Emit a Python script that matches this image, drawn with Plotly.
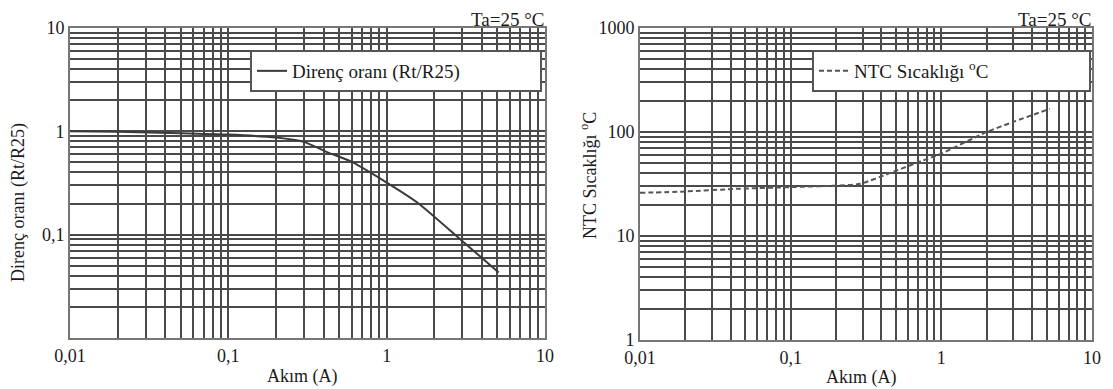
import plotly.graph_objects as go

# ---- data ----
akim_left = [0.01, 0.02, 0.05, 0.1, 0.2, 0.3, 0.42, 0.59, 0.95, 1.56, 2.9, 5.1]
direnc_orani = [1.0, 0.99, 0.96, 0.93, 0.87, 0.79, 0.63, 0.515, 0.336, 0.205, 0.091, 0.043]

akim_right = [0.01, 0.02, 0.046, 0.1, 0.2, 0.29, 0.48, 0.75, 1.0, 2.0, 3.0, 5.25]
ntc_sicaklik = [26, 26.8, 28.5, 29.5, 30.5, 31.8, 41.5, 53, 62, 100, 125, 167]

decade_labels_x = {0.01: "0,01", 0.1: "0,1", 1: "1", 10: "10"}
decade_labels_y_left = {1: "1", 0.1: "0,1", 10: "10"}
decade_labels_y_right = {1: "1", 10: "10", 100: "100", 1000: "1000"}

def log_ticks(start_exp, end_exp, labels):
    vals, texts = [], []
    for e in range(start_exp, end_exp):
        for m in range(1, 10):
            v = round(m * 10 ** e, 6)
            vals.append(v)
            texts.append(labels.get(v, ""))
    v = round(10 ** end_exp, 6)
    vals.append(v)
    texts.append(labels.get(v, ""))
    return vals, texts

# the page body has an 8px margin, so the figure starts at (8, 8)
OFF = 8
W, H = 1113 - OFF, 389 - OFF
def px(x):
    return (x - OFF) / W
def py(y):
    return (H - (y - OFF)) / H

FONT = "Liberation Serif, Times New Roman, DejaVu Serif, serif"
TXT = "#1a1a1a"
GRID = "#4a4a4a"

fig = go.Figure()
fig.add_trace(go.Scatter(x=akim_left, y=direnc_orani, mode="lines",
                         name="Direnç oranı (Rt/R25)", xaxis="x", yaxis="y",
                         line=dict(color="#3a3a3a", width=2, shape="spline", smoothing=0.6),
                         legend="legend"))
fig.add_trace(go.Scatter(x=akim_right, y=ntc_sicaklik, mode="lines",
                         name="NTC Sıcaklığı <sup>o</sup>C", xaxis="x2", yaxis="y2",
                         line=dict(color="#555555", width=2, dash="5px,3px",
                                   shape="spline", smoothing=0.6),
                         legend="legend2"))

xv, xt = log_ticks(-2, 1, decade_labels_x)
yvl, ytl = log_ticks(-2, 1, decade_labels_y_left)
yvr, ytr = log_ticks(0, 3, decade_labels_y_right)

axis_common = dict(type="log", showgrid=True, gridcolor=GRID, gridwidth=1.9,
                   showline=True, mirror=True, linecolor="#777777", linewidth=2,
                   ticks="", zeroline=False, tickmode="array", automargin=False,
                   tickfont=dict(family=FONT, size=18, color=TXT))

fig.update_layout(
    width=W, height=H,
    margin=dict(l=0, r=0, t=0, b=0, autoexpand=False),
    paper_bgcolor="white", plot_bgcolor="white",
    font=dict(family=FONT, color=TXT),
    xaxis=dict(axis_common, domain=[px(70), px(545)], range=[-2, 1],
               tickvals=xv, ticktext=xt, anchor="y"),
    yaxis=dict(axis_common, domain=[py(338), py(28)], range=[-2, 1],
               tickvals=yvl, ticktext=ytl, anchor="x"),
    xaxis2=dict(axis_common, domain=[px(640), px(1092)], range=[-2, 1],
                tickvals=xv, ticktext=xt, anchor="y2"),
    yaxis2=dict(axis_common, domain=[py(340), py(28)], range=[0, 3],
                tickvals=yvr, ticktext=ytr, anchor="x2"),
    legend=dict(x=px(250), y=py(50), xanchor="left", yanchor="top",
                orientation="h", entrywidth=243, bgcolor="white",
                bordercolor="#555555", borderwidth=2,
                font=dict(family=FONT, size=19, color=TXT)),
    legend2=dict(x=px(812), y=py(50), xanchor="left", yanchor="top",
                 orientation="h", entrywidth=230, bgcolor="white",
                 bordercolor="#555555", borderwidth=2,
                 font=dict(family=FONT, size=19, color=TXT)),
    showlegend=True,
)

annots = [
    dict(text="Ta=25 °C", x=px(545), y=1, xanchor="right", yanchor="top",
         font=dict(family=FONT, size=19, color=TXT)),
    dict(text="Ta=25 °C", x=px(1092), y=1, xanchor="right", yanchor="top",
         font=dict(family=FONT, size=19, color=TXT)),
    dict(text="Akım (A)", x=px(302), y=py(376), xanchor="center", yanchor="middle"),
    dict(text="Akım (A)", x=px(861), y=py(377), xanchor="center", yanchor="middle"),
    dict(text="Direnç oranı (Rt/R25)", x=px(18), y=py(203), xanchor="center",
         yanchor="middle", textangle=-90),
    dict(text="NTC Sıcaklığı <sup>o</sup>C", x=px(588), y=py(176),
         xanchor="center", yanchor="middle", textangle=-90),
]
for a in annots:
    a.setdefault("font", dict(family=FONT, size=18, color=TXT))
    fig.add_annotation(xref="paper", yref="paper", showarrow=False, borderpad=0, **a)

fig.write_html("out.html")
